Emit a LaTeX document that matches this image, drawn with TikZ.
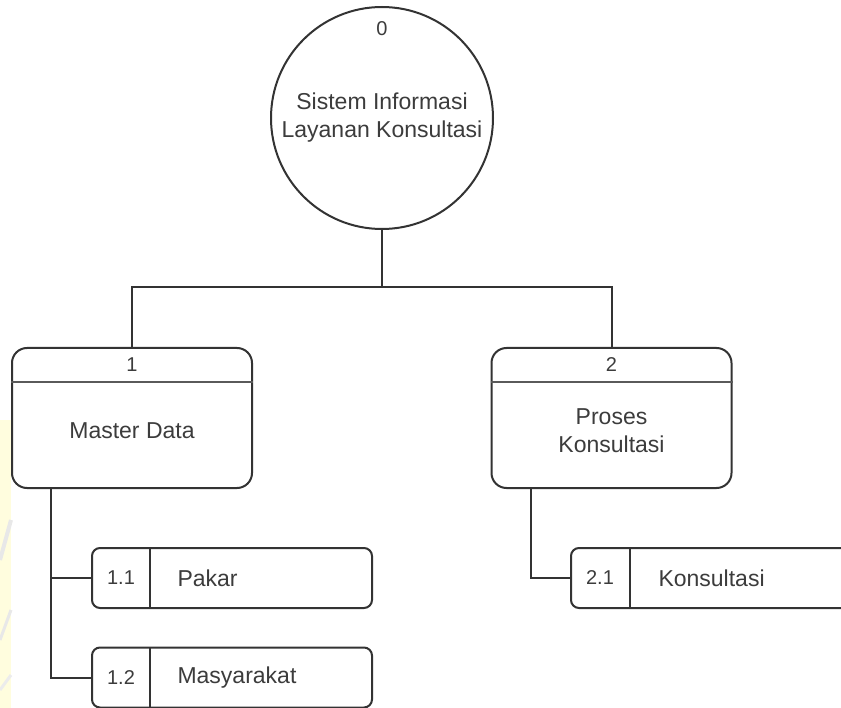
\documentclass[tikz,border=0pt]{standalone}
\usepackage{fontspec}
\setmainfont{Liberation Sans}
\usetikzlibrary{calc}
\definecolor{ink}{RGB}{51,51,51}
\definecolor{txt}{RGB}{60,60,60}
\definecolor{rule}{RGB}{90,90,90}
\definecolor{paleyellow}{RGB}{255,253,222}
\begin{document}
\begin{tikzpicture}[x=1pt,y=-1pt,
  line/.style={draw=ink,line width=2pt},
  maintext/.style={text=txt,font=\fontsize{23}{28}\selectfont,align=center},
  numtext/.style={text=txt,font=\fontsize{20}{24}\selectfont},
  procbox/.style={line,rounded corners=15pt,minimum width=240pt,minimum height=140pt,inner sep=0pt},
  subbox/.style={line,rounded corners=8pt,minimum width=280pt,minimum height=60pt,inner sep=0pt},
  topcircle/.style={line,circle,minimum size=222pt,inner sep=0pt}]
\useasboundingbox (0,0) rectangle (841,708);
\fill[white] (0,0) rectangle (841,708);
\begin{scope}
\clip (0,0) rectangle (841,708);
% faint watermark strip at the left edge
\fill[paleyellow] (0,420) rectangle (11,708);
\draw[gray!18,line width=4pt] (0,560) -- (11,520);
\draw[gray!18,line width=3pt] (0,640) -- (11,610);
\draw[gray!15,line width=3pt] (0,690) -- (11,675);

% level 0
\node[topcircle] (c0) at (382,118) {};
\node[numtext] (n0) at (382,29) {0};
\node[maintext] (t0) at (382,118) {Sistem Informasi\\Layanan Konsultasi};

% level 1
\node[procbox] (b1) at (132,418) {};
\draw[draw=rule,line width=2.5pt] (b1.west |- 0,382) -- (b1.east |- 0,382);
\node[numtext] (n1) at (132,365) {1};
\node[maintext] (t1) at (132,431) {Master Data};

\node[procbox] (b2) at (611.5,418) {};
\draw[draw=rule,line width=2.5pt] (b2.west |- 0,382) -- (b2.east |- 0,382);
\node[numtext] (n2) at (611.5,365) {2};
\node[maintext] (t2) at (611.5,431) {Proses\\Konsultasi};

% level 2
\node[subbox] (s11) at (232,578) {};
\draw[line] (150,548) -- (150,608);
\node[numtext] (n11) at (121,578) {1.1};
\node[maintext,anchor=west] (p11) at (174,578) {Pakar};

\node[subbox] (s12) at (232,677.5) {};
\draw[line] (150,647.5) -- (150,707.5);
\node[numtext] (n12) at (121,677.5) {1.2};
\node[maintext,anchor=west] (p12) at (174,677.5) {Masyarakat};

\node[subbox] (s21) at (711,578) {};
\draw[line] (630,548) -- (630,608);
\node[numtext] (n21) at (600,578) {2.1};
\node[maintext,anchor=west] (p21) at (655,578) {Konsultasi};

% connectors
\coordinate (j0) at (382,287);
\draw[line] (c0.south) -- (j0);
\draw[line] (b1.north) |- (j0) -| (b2.north);
\coordinate (d1) at ($(b1.south west)+(40,0)$);
\coordinate (d2) at ($(b2.south west)+(40,0)$);
\draw[line] (d1) |- (s11.west);
\draw[line] (d1) |- (s12.west);
\draw[line] (d2) |- (s21.west);
\end{scope}
\end{tikzpicture}
\end{document}
